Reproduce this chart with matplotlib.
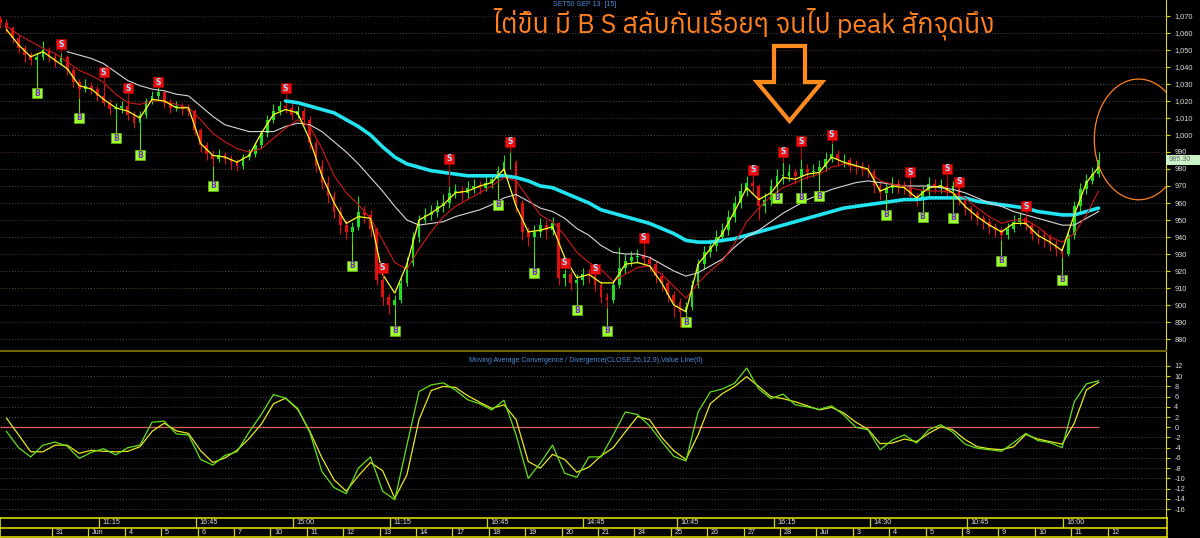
import numpy as np
import matplotlib
matplotlib.use('Agg')
import matplotlib.pyplot as plt
import matplotlib.transforms as mtransforms
from matplotlib.patches import Rectangle, Ellipse, Polygon
from matplotlib import font_manager
from matplotlib.ft2font import FT2Font

# ---------------- data ----------------
first_open = 1068
close = [1066, 1063, 1057, 1051, 1047, 1044, 1046, 1050, 1046, 1043,
         1046, 1038, 1031, 1027, 1029, 1027, 1023, 1019, 1015, 1016,
         1017, 1012, 1007, 1012, 1020, 1023, 1025, 1019, 1016, 1017,
         1015, 1014, 1003, 994, 989, 986, 988, 986, 984, 982,
         987, 989, 994, 1001, 1009, 1014, 1017, 1016, 1012, 1014,
         1009, 995, 982, 972, 964, 955, 947, 943, 946, 955,
         953, 945, 915, 905, 900, 903, 913, 925, 940, 950,
         953, 955, 958, 960, 966, 967, 966, 969, 970, 969,
         972, 974, 979, 984, 984, 960, 943, 940, 943, 947,
         944, 948, 916, 918, 913, 915, 918, 917, 912, 905,
         903, 912, 922, 926, 928, 929, 927, 924, 917, 913,
         906, 902, 896, 899, 912, 924, 931, 935, 940, 944,
         952, 960, 967, 972, 970, 958, 962, 970, 976, 976,
         978, 976, 980, 978, 979, 981, 986, 989, 985, 985,
         982, 981, 980, 979, 970, 966, 969, 971, 970, 969,
         964, 962, 967, 971, 970, 970, 967, 970, 962, 957,
         954, 951, 949, 946, 944, 941, 945, 949, 951, 947,
         942, 941, 940, 936, 933, 930, 941, 958, 968, 973,
         977, 985.3]
high = [1070, 1068, 1064, 1059, 1053, 1049, 1048, 1055, 1052, 1048,
        1048, 1047, 1040, 1033, 1033, 1031, 1029, 1030, 1021, 1019,
        1020, 1021, 1014, 1014, 1022, 1026, 1028, 1026, 1021, 1020,
        1019, 1018, 1015, 1004, 996, 991, 992, 990, 988, 986,
        989, 992, 996, 1003, 1012, 1018, 1020, 1021, 1018, 1017,
        1016, 1011, 997, 985, 976, 967, 958, 950, 949, 964,
        958, 956, 946, 917, 907, 906, 916, 928, 943, 953,
        957, 959, 962, 965, 970, 971, 970, 973, 974, 973,
        976, 977, 982, 988, 990, 985, 962, 946, 947, 951,
        950, 952, 949, 921, 920, 918, 922, 921, 918, 914,
        907, 915, 934, 930, 932, 933, 932, 929, 926, 919,
        915, 908, 904, 902, 915, 927, 935, 939, 944, 948,
        956, 964, 972, 976, 974, 971, 966, 974, 980, 984,
        983, 980, 986, 983, 983, 985, 990, 995, 991, 989,
        987, 985, 984, 983, 980, 972, 972, 975, 974, 973,
        974, 966, 970, 975, 974, 974, 972, 973, 971, 964,
        959, 956, 953, 951, 948, 946, 948, 953, 955, 953,
        949, 945, 944, 942, 938, 935, 944, 961, 972, 977,
        981, 990]
low = [1063, 1060, 1054, 1048, 1043, 1041, 1039, 1044, 1043, 1040,
       1041, 1035, 1028, 1022, 1025, 1024, 1020, 1017, 1012, 1010,
       1013, 1009, 1004, 1002, 1010, 1018, 1021, 1016, 1013, 1014,
       1012, 1011, 1000, 990, 985, 982, 984, 983, 980, 979,
       980, 985, 987, 992, 999, 1007, 1012, 1013, 1009, 1010,
       1006, 992, 978, 968, 960, 951, 942, 939, 937, 944,
       948, 940, 912, 900, 895, 898, 901, 911, 923, 937,
       948, 950, 952, 955, 957, 963, 961, 963, 966, 965,
       967, 969, 972, 976, 980, 955, 938, 935, 932, 940,
       939, 941, 912, 911, 909, 909, 912, 913, 908, 901,
       898, 901, 910, 919, 923, 925, 923, 920, 913, 908,
       902, 893, 887, 895, 897, 910, 921, 928, 932, 937,
       941, 949, 957, 964, 965, 950, 954, 959, 968, 971,
       973, 971, 975, 974, 975, 978, 979, 984, 982, 981,
       978, 977, 976, 975, 966, 962, 965, 966, 966, 965,
       961, 958, 961, 964, 966, 966, 963, 966, 959, 953,
       950, 947, 945, 942, 940, 938, 939, 943, 947, 944,
       938, 936, 934, 932, 929, 928, 929, 939, 955, 965,
       971, 975]

# moving averages, sampled every second bar (bars 1, 3, 5, ...)
ma_yellow = [1062, 1053, 1046, 1049, 1044, 1039, 1029, 1027, 1021, 1016,
             1014, 1010, 1021, 1020, 1016, 1016, 995, 988, 987, 984,
             988, 1001, 1012, 1015, 1013, 997, 976, 960, 948, 952,
             951, 918, 907, 924, 950, 954, 959, 966, 967, 970,
             972, 980, 958, 943, 944, 946, 928, 916, 918, 913,
             913, 924, 925, 923, 913, 900, 896, 924, 933, 942,
             955, 969, 962, 966, 975, 974, 977, 978, 987, 984,
             982, 980, 967, 970, 969, 963, 969, 970, 966, 958,
             952, 947, 943, 948, 948, 941, 937, 932, 953, 972,
             981]
ma_red = [1064, 1059, 1055, 1051, 1048, 1043, 1038, 1035, 1031, 1024,
          1019, 1018, 1020, 1020, 1018, 1016, 1009, 1001, 996, 992,
          990, 992, 998, 1004, 1009, 1005, 992, 976, 966, 959,
          951, 938, 925, 921, 933, 943, 952, 958, 962, 966,
          970, 975, 973, 963, 953, 949, 941, 931, 925, 921,
          914, 918, 922, 923, 918, 911, 904, 913, 920, 926,
          936, 949, 957, 964, 969, 972, 975, 977, 981, 983,
          982, 979, 973, 971, 970, 968, 967, 967, 966, 963,
          957, 952, 948, 950, 950, 946, 940, 937, 942, 953,
          967]
nan = float('nan')
ma_white = [nan, nan, nan, nan, nan, 1049, 1047, 1045, 1042, 1037,
            1032, 1029, 1027, 1026, 1024, 1023, 1017, 1011, 1006, 1004,
            1002, 1002, 1002, 1005, 1007, 1006, 1002, 996, 990, 983,
            975, 967, 958, 950, 947, 948, 949, 952, 954, 956,
            959, 963, 965, 961, 957, 955, 951, 945, 941, 935,
            931, 930, 930, 928, 924, 920, 917, 919, 923, 927,
            934, 940, 944, 949, 954, 958, 962, 965, 968, 970,
            972, 973, 972, 971, 970, 970, 970, 969, 968, 966,
            963, 960, 958, 955, 953, 951, 949, 947, 947, 951,
            955]
ma_cyan = [nan] * 23 + [1020, 1019, 1017, 1015, 1013, 1009, 1005,
            1000, 993, 987, 983, 981, 979, 978, 977, 976, 976,
            976, 976, 975, 973, 970, 969, 966, 963, 960, 956,
            954, 952, 950, 948, 945, 942, 938, 937, 937, 938,
            939, 941, 943, 945, 947, 949, 951, 953, 955, 957,
            958, 959, 960, 961, 962, 962, 963, 963, 963, 963,
            961, 960, 959, 958, 957, 955, 954, 953, 953, 955,
            957]
macd = [-0.8, -4.0, -5.8, -3.5, -2.9, -3.7, -6.1, -4.9, -4.2, -5.4,
        -4.0, -3.5, 1.0, 1.2, -1.3, -1.5, -6.3, -7.4, -5.5, -4.8,
        -0.9, 2.5, 6.4, 5.7, 3.7, -1.0, -8.7, -11.8, -13.0, -8.0,
        -5.8, -12.5, -14.2, -3.5, 7.0, 8.3, 8.7, 7.3, 5.4, 4.6,
        3.4, 5.3, -1.5, -10.0, -7.0, -3.5, -9.0, -9.8, -5.8, -5.8,
        -1.5, 3.0, 2.5, 0.3, -2.8, -5.7, -6.6, 3.0, 6.9, 7.5,
        8.6, 11.6, 7.5, 5.6, 6.5, 4.4, 4.0, 3.5, 4.2, 2.4,
        0.0, -0.5, -4.4, -2.5, -1.5, -3.1, -0.5, 0.5, -1.0, -3.3,
        -4.1, -4.4, -4.7, -3.0, -1.2, -2.6, -3.0, -4.0, 5.0, 8.5,
        9.1]
signal = [1.8, -1.5, -4.8, -4.8, -3.5, -3.5, -5.1, -4.5, -4.7, -4.8,
          -4.7, -3.8, -0.8, 0.8, -0.7, -1.2, -4.6, -6.9, -6.0, -4.5,
          -2.2, 0.6, 4.6, 5.7, 3.5, -0.8, -6.0, -10.3, -12.5, -9.5,
          -6.9, -8.5, -13.9, -9.3, 1.5, 7.2, 8.0, 7.8, 6.2, 4.9,
          3.7, 4.4, 1.5, -6.7, -8.0, -5.3, -6.3, -8.8, -7.8, -5.6,
          -4.0, -0.9, 2.1, 1.5, -2.0, -4.6, -6.3, -1.5, 4.6, 6.6,
          8.0, 9.9, 8.0, 6.0, 5.6, 5.0, 4.2, 3.4, 3.9, 2.8,
          1.0, -0.4, -3.2, -3.1, -2.3, -2.8, -1.2, 0.1, -0.5, -2.4,
          -3.8, -4.2, -4.4, -3.8, -1.4, -2.3, -2.8, -3.3, 0.8, 7.3,
          8.8]
buy_bars = [6, 13, 19, 23, 35, 58, 65, 82, 88, 95, 100, 113, 128, 132, 135,
            146, 152, 157, 165, 175]
buy_levels = [1024.6, 1010, 998, 988, 970, 923, 885, 959, 919, 897, 885, 890,
              963, 963, 964, 953, 952, 951.4, 926, 915]
sell_bars = [10, 17, 21, 26, 47, 63, 74, 84, 93, 98, 106, 124, 129, 132, 137,
             150, 156, 158, 169]
sell_levels = [1053.5, 1037, 1027.5, 1031, 1027.5, 922, 986, 996, 925, 921.3,
               939.6, 979.7, 990, 996.3, 1000, 978, 980, 972.6, 958]
date_labels = ["31", "Jun", "4", "5", "6", "7", "10", "11", "12", "13", "14",
               "17", "18", "19", "20", "21", "24", "25", "26", "27", "28",
               "Jul", "3", "4", "5", "8", "9", "10", "11", "12"]
time_labels = ["11:15", "16:45", "15:00", "11:15", "16:45", "14:45",
               "10:45", "16:15", "14:30", "10:45", "16:00"]
time_tick_bars = [16.2, 32.2, 48.2, 64.2, 80.2, 96.0, 111.5, 127.5, 143.3,
                  159.3, 175.1]
price_ticks = list(range(880, 1071, 10))
macd_ticks = list(range(-16, 13, 2))
last_price = 985.30
title_text = "ไต่ขึ้น มี B S สลับกันเรื่อยๆ จนไป peak สักจุดนึง"
chart_name = "SET50 SEP 13  [15]"
macd_name = "Moving Average Convergence / Divergence(CLOSE,26,12,9),Value Line(0)"

# ---------------- helpers ----------------
plt.rcParams['font.family'] = ['Liberation Sans', 'DejaVu Sans']


def find_thai_family():
    items = sorted(font_manager.fontManager.ttflist,
                   key=lambda f: ('CJK' in f.name, f.name))
    seen = set()
    for f in items:
        if f.fname in seen:
            continue
        seen.add(f.fname)
        try:
            cmap = FT2Font(f.fname).get_charmap()
        except Exception:
            continue
        if 0x0E44 in cmap and 0x0E19 in cmap and 0x0E2A in cmap:
            return f.name
    return None


thai_family = find_thai_family()

bars = np.arange(len(close))
line_x = bars[1::2]
opens = [first_open] + close[:-1]
XLIM = (-0.07, 192.12)
FW, FH = 1200, 538

fig = plt.figure(figsize=(12, 5.38), dpi=100, facecolor='black')
W = 1166 / FW
ax = fig.add_axes([0, (FH - 351) / FH, W, 351 / FH])
axm = fig.add_axes([0, (FH - 516) / FH, W, (516 - 352) / FH])
axx = fig.add_axes([0, 0, 1168 / FW, 22 / FH])

YEL = '#d8d800'
for a in (ax, axm):
    a.set_facecolor('black')
    a.set_xlim(*XLIM)
    a.set_xticks([])
    for s in ('left', 'top'):
        a.spines[s].set_visible(False)
    a.spines['right'].set_color(YEL)
    a.spines['bottom'].set_color('#6e6400')
    a.spines['bottom'].set_linewidth(1.5)
    a.yaxis.tick_right()
    a.tick_params(axis='y', colors=YEL, labelcolor='#dcdcdc', labelsize=5.3,
                  length=3, width=0.8, pad=3)

# ---------------- price panel ----------------
ax.set_ylim(872.95, 1079.4)
ax.set_yticks(price_ticks)
ax.set_yticklabels([f"{v:,}" for v in price_ticks])
grid_cols = ['#4c4c4c', '#4a3058', '#4c4c4c', '#58501e', '#4c4c4c', '#5a2a2a']
for i, v in enumerate(price_ticks):
    ax.axhline(v, color=grid_cols[i % len(grid_cols)], ls=(0, (1, 2)), lw=0.7,
               zorder=0)

cols = ['#22dd22' if c >= o else '#e01010' for o, c in zip(opens, close)]
ax.vlines(bars, low, high, colors=cols, lw=0.8, zorder=2)
bottoms = [min(o, c) for o, c in zip(opens, close)]
heights = [max(abs(c - o), 0.4) for o, c in zip(opens, close)]
ax.bar(bars, heights, bottom=bottoms, width=0.45, color=cols, zorder=2)

ax.plot(line_x, ma_cyan, color='#22e4f0', lw=2.6, zorder=3, solid_capstyle='round')
ax.plot(line_x, ma_white, color='#d8d8d8', lw=0.8, zorder=3)
ax.plot(line_x, ma_red, color='#d01818', lw=0.8, zorder=3)
ax.plot(line_x, ma_yellow, color='#ffff20', lw=0.9, zorder=3)

# buy / sell markers
for b, lv in zip(buy_bars, buy_levels):
    ax.vlines(b, lv, low[b], color='#77dd00', lw=0.8, zorder=4)
for b, lv in zip(sell_bars, sell_levels):
    ax.vlines(b, high[b], lv, color='#c00000', lw=0.8, zorder=4)
ax.scatter(buy_bars, buy_levels, marker='s', s=62, c='#99ff33',
           edgecolors='#66bb00', linewidths=0.5, zorder=5)
ax.scatter(sell_bars, sell_levels, marker='s', s=62, c='#ee1010',
           edgecolors='#aa0000', linewidths=0.5, zorder=5)
for b, lv in zip(buy_bars, buy_levels):
    ax.text(b, lv, 'B', ha='center', va='center', fontsize=5.5,
            fontweight='bold', color='#7030b0', zorder=6, family='DejaVu Sans')
for b, lv in zip(sell_bars, sell_levels):
    ax.text(b, lv, 'S', ha='center', va='center', fontsize=5.5,
            fontweight='bold', color='#a8e0ff', zorder=6, family='DejaVu Sans')

# highlighted ellipse (clipped by the panel)
ax.add_patch(Ellipse((187.6, 997.4), 14.6, 71, fill=False, ec='#ff8020',
                     lw=0.9, zorder=6))

# last price tag
tr = mtransforms.blended_transform_factory(ax.transAxes, ax.transData)
ax.add_patch(Rectangle((1.0, last_price - 2.7), 34 / 1166, 5.4, transform=tr,
                       fc='#c8f2c8', ec='none', clip_on=False, zorder=7))
ax.text(1.0 + 3 / 1166, last_price, f"{last_price:.2f}", transform=tr,
        ha='left', va='center', fontsize=5.3, color='#6a6a6a', zorder=8,
        clip_on=False)

# ---------------- MACD panel ----------------
axm.set_ylim(-17.37, 14.74)
axm.set_yticks(macd_ticks)
axm.set_yticklabels([str(v) for v in macd_ticks])
axm.spines['bottom'].set_visible(False)
for v in macd_ticks:
    if v != 0:
        axm.axhline(v, color='#4c4c4c', ls=(0, (1, 2)), lw=0.7, zorder=0)
axm.hlines(0, bars[0], bars[-1], color='#e06060', lw=0.9, zorder=1)
axm.plot(line_x, signal, color='#e8e820', lw=0.9, zorder=2)
axm.plot(line_x, macd, color='#66e01a', lw=0.9, zorder=3)

# ---------------- time axis band ----------------
axx.set_facecolor('black')
axx.set_xlim(XLIM[0], XLIM[0] + (XLIM[1] - XLIM[0]) * 1168 / 1166)
axx.set_ylim(0, 1)
axx.axis('off')
y_top, y_mid, y_bot = 20 / 22, 10 / 22, 0.03
for yy in (y_top, y_mid, y_bot):
    axx.axhline(yy, color=YEL, lw=1.2)
axx.axvline(XLIM[0] + 0.05, ymin=y_bot, ymax=y_top, color=YEL, lw=1.2)
axx.axvline(axx.get_xlim()[1] - 0.1, ymin=y_bot, ymax=y_top, color=YEL, lw=1.2)
date_tick_bars = np.arange(8.5, 8.5 + 6 * len(date_labels), 6)
for b, lab in zip(date_tick_bars, date_labels):
    axx.vlines(b, y_bot, y_mid, color=YEL, lw=0.9)
    axx.text(b + 0.6, (y_bot + y_mid) / 2, lab, ha='left', va='center',
             fontsize=5.2, color='#e0e0e0')
for b, lab in zip(time_tick_bars, time_labels):
    axx.vlines(b, y_mid, y_top, color=YEL, lw=0.9)
    axx.text(b + 0.6, (y_mid + y_top) / 2, lab, ha='left', va='center',
             fontsize=5.2, color='#e0e0e0')

# ---------------- annotations ----------------
fig.text(553 / FW, 1 - 5 / FH, chart_name, fontsize=5.0, color='#4f8fe0',
         va='center', ha='left')
fig.text(469 / FW, 1 - 360 / FH, macd_name, fontsize=5.0, color='#4f8fe0',
         va='center', ha='left')

fams = [thai_family, 'DejaVu Sans'] if thai_family else ['DejaVu Sans']
fig.text(744 / FW, 1 - 33 / FH, title_text, fontsize=19.2, color='#ff8020',
         ha='center', va='baseline', family=fams, style='italic')

arrow_px = [(774, 46), (805, 46), (805, 82), (822, 82), (789.5, 121),
            (757, 82), (774, 82)]
arrow_pts = [(x / FW, 1 - y / FH) for x, y in arrow_px]
fig.patches.append(Polygon(arrow_pts, closed=True, fill=False, ec='#ff8a1e',
                           lw=3.0, joinstyle='miter', transform=fig.transFigure,
                           figure=fig))

fig.savefig('out.png', dpi=100, facecolor='black')
